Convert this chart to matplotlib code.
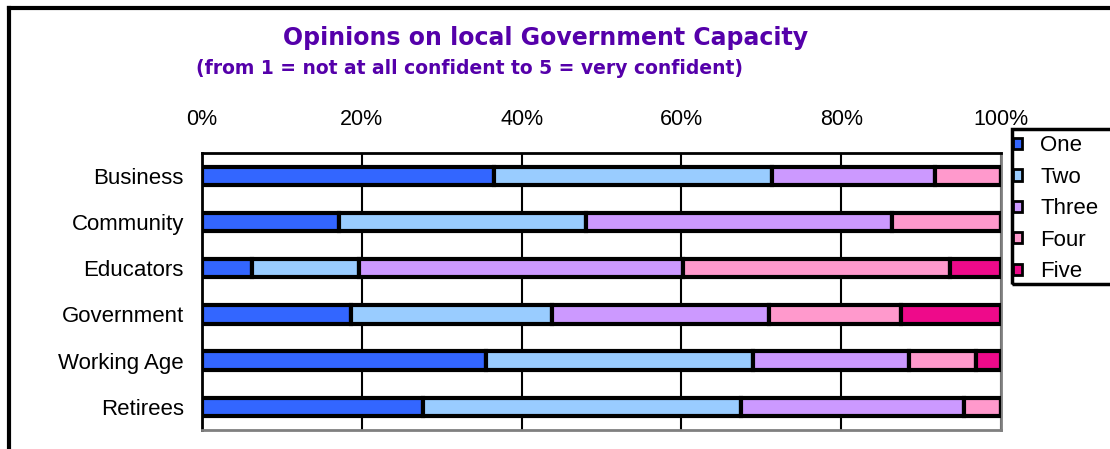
import numpy as np
import matplotlib
matplotlib.use("Agg")
import matplotlib.pyplot as plt
from matplotlib.lines import Line2D
from matplotlib.patches import Rectangle

plt.rcParams['font.family'] = ['Liberation Sans', 'DejaVu Sans']

# shares in percent
groups = ["Business", "Community", "Educators", "Government", "Working Age", "Retirees"]
levels = ["One", "Two", "Three", "Four", "Five"]
one = [36.6, 17.2, 6.3, 18.6, 35.5, 27.7]
two = [34.7, 30.9, 13.4, 25.2, 33.4, 39.7]
three = [20.5, 38.3, 40.5, 27.2, 19.6, 28.0]
four = [8.2, 13.6, 33.4, 16.5, 8.4, 4.6]
five = [0.0, 0.0, 6.4, 12.5, 3.1, 0.0]
colors = ["#3366FF", "#99CCFF", "#CC99FF", "#FF99CC", "#EE0A8A"]

W, H = 1110, 449
fig = plt.figure(figsize=(W / 100, H / 100), dpi=100)
ax = fig.add_axes([0.182, 0.0423, 0.7198, 0.6177])

y = np.arange(len(groups))
left = np.zeros(len(groups))
handles = []
for name, vals, col in zip(levels, [one, two, three, four, five], colors):
    vals = np.array(vals)
    b = ax.barh(y, vals, left=left, height=0.4, color=col,
                edgecolor="black", linewidth=3, zorder=3, label=name)
    handles.append(b)
    left = left + vals

ax.set_xlim(0, 100)
ax.set_ylim(len(groups) - 0.5, -0.5)
ax.set_yticks(y)
ax.set_yticklabels(groups, fontsize=16)
ax.set_xticks([0, 20, 40, 60, 80, 100])
ax.set_xticklabels(["0%", "20%", "40%", "60%", "80%", "100%"], fontsize=15.5)
ax.xaxis.tick_top()
ax.tick_params(axis="x", length=0, pad=16)
ax.tick_params(axis="y", length=0, pad=13)
ax.grid(axis="x", color="black", linewidth=1.5, zorder=0)
ax.set_axisbelow(True)

for side in ["top", "left"]:
    ax.spines[side].set_color("black")
    ax.spines[side].set_linewidth(2)
for side in ["right", "bottom"]:
    ax.spines[side].set_color("#808080")
    ax.spines[side].set_linewidth(2)

fig.text(546 / W, 1 - 38 / H, "Opinions on local Government Capacity",
         ha="center", va="center", fontsize=17, fontweight="bold",
         color="#5500AA", family="DejaVu Sans")
fig.text(470 / W, 1 - 68 / H, "(from 1 = not at all confident to 5 = very confident)",
         ha="center", va="center", fontsize=13.5, fontweight="bold",
         color="#5500AA", family="DejaVu Sans")

leg = fig.legend(handles=handles, labels=levels, loc="upper left",
                 bbox_to_anchor=(1009 / W, 1 - 131 / H), fontsize=16,
                 frameon=False, handlelength=0.4, handleheight=0.4,
                 handletextpad=0.8, labelspacing=0.47, borderpad=0.2, borderaxespad=0)
for h in leg.legend_handles:
    h.set_linewidth(2)

# legend box runs past the right edge
fig.add_artist(Rectangle((1012 / W, 1 - 284 / H), 110 / W, 155 / H,
                         transform=fig.transFigure, fill=False,
                         edgecolor="black", linewidth=2.5))

# frame lines round the chart (top and left)
fig.add_artist(Line2D([9 / W, 1.0], [1 - 8 / H, 1 - 8 / H], color="black", linewidth=3))
fig.add_artist(Line2D([9 / W, 9 / W], [1 - 8 / H, 0], color="black", linewidth=3))

fig.savefig("out.png", dpi=100)
